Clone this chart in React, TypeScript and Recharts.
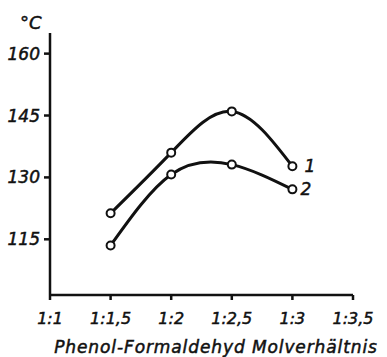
import { Line, LineChart, XAxis, YAxis } from 'recharts'

const ratios = [1.5, 2, 2.5, 3]
const curve1 = [121.3, 136, 146, 132.7]
const curve2 = [113.5, 130.7, 133.1, 127.1]
const curveNames = ['1', '2']
const xTicks = [1, 1.5, 2, 2.5, 3, 3.5]
const xTickLabels = ['1:1', '1:1,5', '1:2', '1:2,5', '1:3', '1:3,5']
const yTicks = [115, 130, 145, 160]

const data = ratios.map((ratio, i) => ({ ratio, c1: curve1[i], c2: curve2[i] }))

const ink = '#111'
const font = '"DejaVu Sans", sans-serif'
const textStyle = { fill: ink, stroke: ink, strokeWidth: 0.5, fontStyle: 'italic', fontFamily: font }

const endLabel = (name: string, dx: number) => (props: any) => {
  if (props.index !== ratios.length - 1) return null
  return (
    <text x={props.x + dx} y={props.y + 6} fontSize={17} {...textStyle}>
      {name}
    </text>
  )
}

const dot = { r: 4, fill: '#fff', stroke: ink, strokeWidth: 2 }

export default function App() {
  return (
    <div style={{ position: 'absolute', left: 0, top: 0, background: '#fff' }}>
      <LineChart width={387} height={357} data={data} margin={{ top: 33, right: 34, left: 0, bottom: 32 }}>
        <XAxis
          dataKey="ratio"
          type="number"
          domain={[1, 3.5]}
          ticks={xTicks}
          tickFormatter={(v: number) => xTickLabels[xTicks.indexOf(v)] ?? ''}
          height={30}
          stroke={ink}
          strokeWidth={2.5}
          tickSize={5}
          tickMargin={13}
          tick={{ ...textStyle, fontSize: 16 }}
          interval={0}
          label={{
            content: () => (
              <text x={216} y={353} textAnchor="middle" fontSize={17} letterSpacing={0.9} {...textStyle}>
                Phenol-Formaldehyd Molverhältnis
              </text>
            ),
          }}
        />
        <YAxis
          type="number"
          domain={[101.5, 165]}
          ticks={yTicks}
          width={50}
          stroke={ink}
          strokeWidth={2.5}
          tickSize={6}
          tickMargin={4}
          tick={{ ...textStyle, fontSize: 17 }}
          interval={0}
          label={{
            content: () => (
              <text x={20} y={29} fontSize={18} {...textStyle}>
                °C
              </text>
            ),
          }}
        />
        <Line
          dataKey="c1"
          type="natural"
          stroke={ink}
          strokeWidth={3}
          dot={dot}
          isAnimationActive={false}
          label={endLabel(curveNames[0], 12)}
        />
        <Line
          dataKey="c2"
          type="natural"
          stroke={ink}
          strokeWidth={3}
          dot={dot}
          isAnimationActive={false}
          label={endLabel(curveNames[1], 8)}
        />
      </LineChart>
    </div>
  )
}
